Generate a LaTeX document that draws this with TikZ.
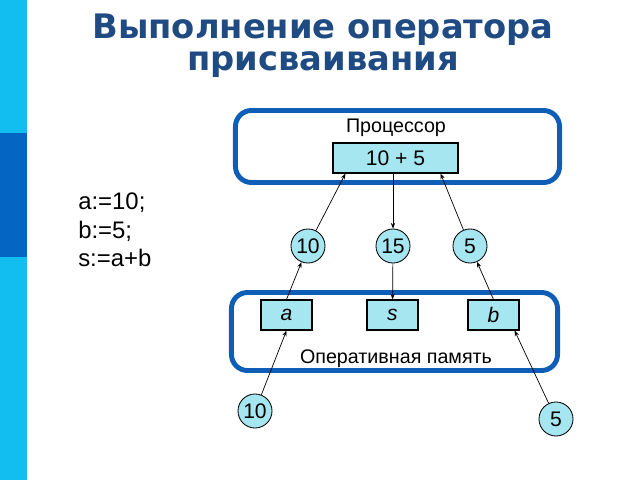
\documentclass[tikz,border=0pt]{standalone}
\usepackage{fontspec}
\setmainfont{Liberation Sans}
\newfontfamily\headfont{DejaVu Sans}
\usepackage{xcolor}
\usetikzlibrary{arrows.meta, positioning}
\definecolor{framebl}{HTML}{0E5DB6}
\definecolor{cellcy}{HTML}{A6E6F0}
\definecolor{headbl}{HTML}{1F4B82}
\definecolor{barlt}{HTML}{12BEEF}
\definecolor{bardk}{HTML}{0565C3}

\begin{document}
\begin{tikzpicture}[
  x=0.025cm, y=-0.025cm,
  frame/.style={draw=framebl, line width=3.5pt, rounded corners=0.4cm},
  cell/.style={draw=black, line width=0.8pt, fill=cellcy, minimum height=0.75cm,
               inner sep=0pt, font=\fontsize{15}{17}\selectfont},
  val/.style={circle, draw=black, line width=0.6pt, fill=cellcy, minimum size=0.85cm,
              inner sep=0pt, font=\fontsize{15}{17}\selectfont},
  flow/.style={-{Stealth[length=4pt, width=3pt]}, line width=0.5pt},
]
\useasboundingbox (0,0) rectangle (640,480);
\fill[barlt] (0,0) rectangle (27,480);
\fill[bardk] (0,133) rectangle (27,257);

\node[anchor=north, inner sep=0pt, align=center, text=headbl,
      font=\headfont\bfseries\fontsize{24}{22.7}\selectfont]
  (title) at (323,14) {Выполнение оператора\\присваивания};

\node[anchor=north west, align=left, inner sep=0pt,
      font=\fontsize{17}{20.2}\selectfont] (code) at (78,193)
  {a:=10;\\b:=5;\\s:=a+b};

\node[frame, minimum width=8.1cm, minimum height=1.8cm] (cpu) at (397.5,146.5) {};
\node[anchor=base, font=\fontsize{14}{16}\selectfont] (cpulbl) at (396,132) {Процессор};
\node[cell, minimum width=3.125cm] (sum) at (395.5,158) {10 + 5};

\node[frame, minimum width=8.15cm, minimum height=1.95cm] (mem) at (394.5,331.5) {};
\node[anchor=base, font=\fontsize{14}{16}\selectfont] (memlbl) at (396,363) {Оперативная память};
\node[cell, minimum width=1.275cm] (a) at (286.5,315) {\itshape a};
\node[cell, minimum width=1.275cm] (s) at (392.5,315) {\itshape s};
\node[cell, minimum width=1.275cm] (b) at (493.5,315) {\itshape b};

\node[val] (c10) at (308,246) {10};
\node[val] (c15) at (393,246) {15};
\node[val] (c5) at (470,246) {5};
\node[val] (d10) at (255,411) {10};
\node[val] (d5) at (556,419) {5};

\draw[flow] (c10) -- ([xshift=0.325cm]sum.south west);
\draw[flow] (sum.south -| c15) -- (c15);
\draw[flow] (c5) -- ([xshift=-0.45cm]sum.south east);
\draw[flow] (a.north) -- (c10);
\draw[flow] (c15) -- (s);
\draw[flow] (b.north) -- (c5);
\draw[flow] (d10) -- (a.south);
\draw[flow] (d5) -- ([xshift=-0.125cm]b.south east);

\end{tikzpicture}
\end{document}
